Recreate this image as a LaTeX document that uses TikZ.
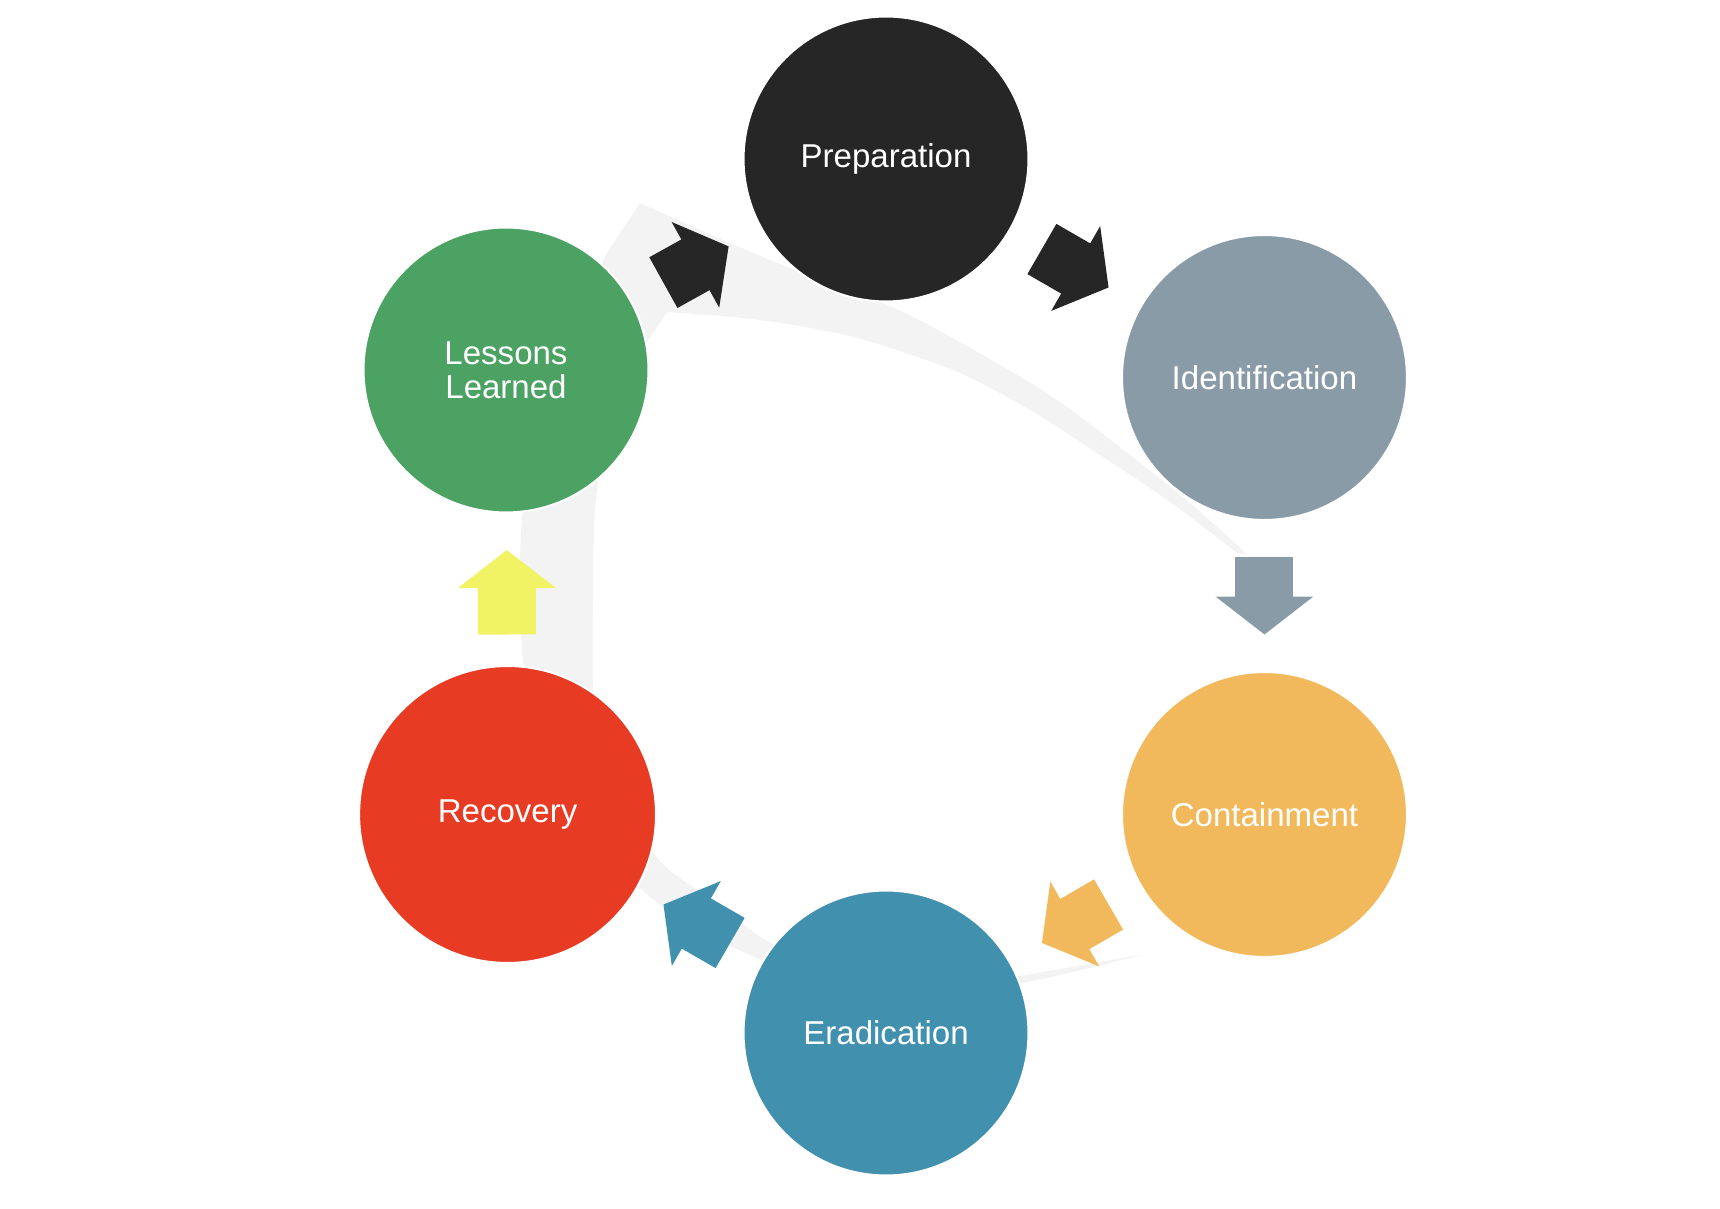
\documentclass[tikz,border=0pt]{standalone}
\usepackage{fontspec}
\setmainfont{Liberation Sans}
\usepackage{tikz}
\usetikzlibrary{calc, arrows.meta}
\usepackage{xcolor}
\definecolor{prepblack}{HTML}{262626}
\definecolor{identgrey}{HTML}{8A9BA8}
\definecolor{containorange}{HTML}{F2B95C}
\definecolor{eradblue}{HTML}{4190AE}
\definecolor{recovred}{HTML}{E83B24}
\definecolor{lessonsgreen}{HTML}{4BA263}
\definecolor{arrowyellow}{HTML}{F1F264}
\definecolor{bandgrey}{HTML}{F3F3F3}

\begin{document}
\begin{tikzpicture}[x=0.1mm, y=0.1mm,
    every node/.style={font=\fontsize{9.4}{9.7}\selectfont, text=white, align=center},
    phase/.style={circle, minimum size=28.5mm, inner sep=0pt, draw=white, line width=0.6pt},
    cyclearrow/.style={line width=5.8mm, -{Triangle[length=3.8mm, width=9.6mm]}, shorten <=18mm, shorten >=18mm}]

        \useasboundingbox (0,0) rectangle (1720,1208);
        \coordinate (c) at (886,612);

        % Grey swoosh behind the cycle
        \fill[bandgrey] plot[smooth] coordinates {(1248,653) (1190,705) (1130,753) (1060,806) (1000,843) (903,896) (800,936) (730,965) (640,1005)}
            -- plot[smooth] coordinates {(607,955) (570,878) (535,778) (522,688) (520,608) (527,518) (560,408) (641,319) (700,278) (774,244) (890,218) (1020,225) (1145,254)}
            -- plot[smooth] coordinates {(1020,232) (890,230) (777,262) (720,303) (659,348) (610,428) (594,508) (593,608) (596,708) (615,808) (653,875)}
            -- plot[smooth] coordinates {(667,896) (760,888) (853,871) (953,838) (1030,798) (1100,753) (1170,706) (1237,655)} -- cycle;

        % Phases
        \node[phase, fill=prepblack] (prep) at ([shift={(90:437)}]c) {Preparation};
        \node[phase, fill=identgrey] (ident) at ([shift={(30:437)}]c) {Identification};
        \node[phase, fill=containorange] (contain) at ([shift={(-30:437)}]c) {Containment};
        \node[phase, fill=eradblue] (erad) at ([shift={(-90:437)}]c) {Eradication};
        \node[phase, fill=recovred, minimum size=29.7mm] (recov) at ([shift={(-150:437)}]c) {Recovery};
        \node[phase, fill=lessonsgreen] (lessons) at (506,838) {Lessons\\Learned};

        % Arrows between phases
        \draw[cyclearrow, prepblack] (lessons.center) -- (prep.center);
        \draw[cyclearrow, prepblack] (prep.center) -- (ident.center);
        \draw[cyclearrow, identgrey] (ident.center) -- (contain.center);
        \draw[cyclearrow, containorange] (contain.center) -- (erad.center);
        \draw[cyclearrow, eradblue] (erad.center) -- (recov.center);
        \draw[cyclearrow, arrowyellow] (recov.center) -- (lessons.center);
\end{tikzpicture}
\end{document}
